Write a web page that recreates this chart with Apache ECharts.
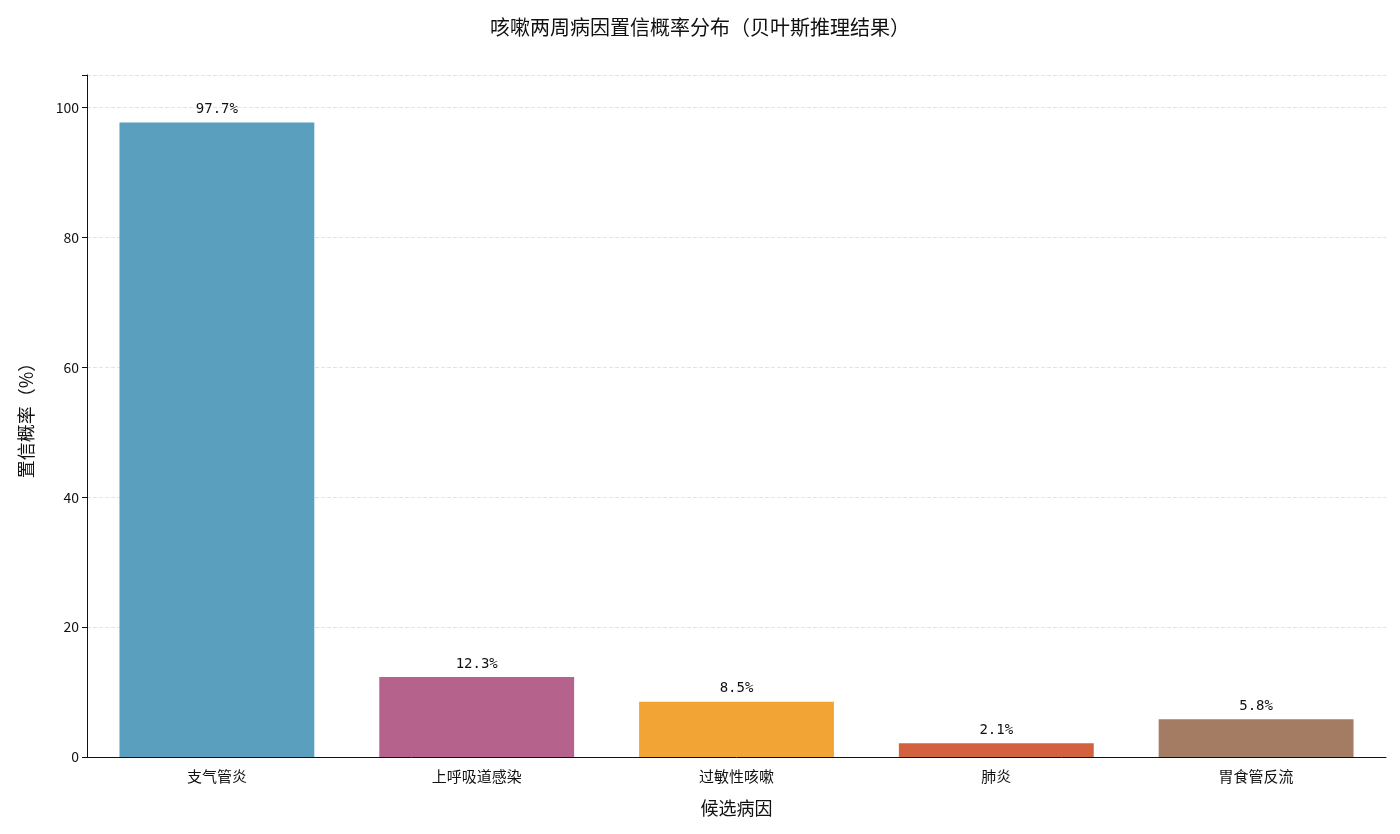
<!DOCTYPE html><html><head><meta charset="utf-8">
<script src="https://cdn.jsdelivr.net/npm/echarts@6/dist/echarts.min.js"></script>
<style>body{margin:0}#c{width:1400px;height:834px}</style></head><body><div id="c"></div>
<script>
const categories=['支气管炎','上呼吸道感染','过敏性咳嗽','肺炎','胃食管反流'];
const values=[97.7,12.3,8.5,2.1,5.8];
const colors=['#5a9fbd','#b5628c','#f2a535','#d2613f','#a47c63'];
const font='"Noto Sans CJK SC", sans-serif';
const ch=echarts.init(document.getElementById('c'));
ch.setOption({
 title:{text:'咳嗽两周病因置信概率分布（贝叶斯推理结果）',left:'center',top:12,textStyle:{fontFamily:font,fontSize:20,fontWeight:'normal',color:'#111'}},
 grid:{left:87,right:14,top:75,bottom:77},
 xAxis:{type:'category',data:categories,name:'候选病因',nameLocation:'middle',nameGap:42,
  nameTextStyle:{fontFamily:font,fontSize:18,color:'#111'},
  axisLine:{lineStyle:{color:'#111'}},axisTick:{alignWithLabel:true,lineStyle:{color:'#111'}},
  axisLabel:{fontFamily:font,fontSize:15,color:'#111',margin:12}},
 yAxis:{type:'value',min:0,max:105,interval:20,name:'置信概率（%）',nameLocation:'middle',nameGap:52,
  nameTextStyle:{fontFamily:font,fontSize:18,color:'#111'},
  axisLine:{show:true,lineStyle:{color:'#111'}},axisTick:{show:true,lineStyle:{color:'#111'}},
  axisLabel:{fontFamily:font,fontSize:14,color:'#111',formatter:v=>v%20===0?v:''},
  splitLine:{lineStyle:{type:'dashed',color:'#e3e3e3'}}},
 series:[{type:'bar',barWidth:'75%',
  data:values.map((v,i)=>({value:v,itemStyle:{color:colors[i]}})),
  label:{show:true,position:'top',formatter:p=>p.value.toFixed(1)+'%',fontFamily:'"DejaVu Sans Mono", monospace',fontSize:14,color:'#111',distance:6}}]
});
</script></body></html>
